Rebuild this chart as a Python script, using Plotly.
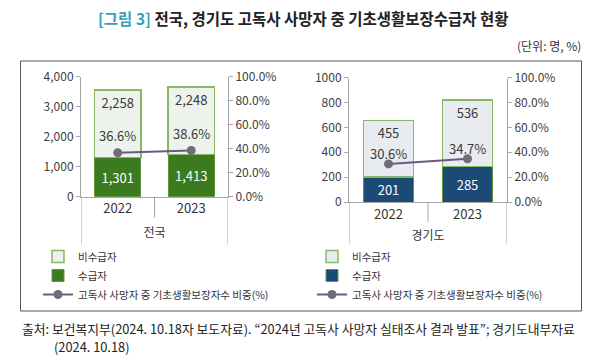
import plotly.graph_objects as go

# ---------------- data ----------------
years = ["2022", "2023"]
nat_recipients = [1301, 1413]
nat_non_recipients = [2258, 2248]
nat_share = [0.366, 0.386]
gg_recipients = [201, 285]
gg_non_recipients = [455, 536]
gg_share = [0.306, 0.347]

region_labels = ["전국", "경기도"]
series_names = ["비수급자", "수급자", "고독사 사망자 중 기초생활보장자수 비중(%)"]
left_ticks_nat = [0, 1000, 2000, 3000, 4000]
left_ticks_gg = [0, 200, 400, 600, 800, 1000]
right_ticks = [0, 0.2, 0.4, 0.6, 0.8, 1.0]

# ---------------- helpers ----------------
W, H = 600, 360
def px(x):
    return x / W
def py(y):
    return 1 - y / H

FONT = "Noto Sans CJK KR"
AX = "#a6a6a6"
TXT = "#3a3a3a"

fig = go.Figure()

def add_panel(rec, non, share, xa, ya, ya2, leg, rec_color, non_color,
              label_shift, outer_len, inner_len):
    fig.add_trace(go.Bar(
        x=years, y=rec, name=series_names[1], xaxis=xa, yaxis=ya, legend=leg,
        legendrank=2,
        marker=dict(color=rec_color, line=dict(color="#5f963f", width=1)),
        texttemplate="%{y:,}", textposition="inside", insidetextanchor="middle",
        textangle=0, textfont=dict(color="white", size=13, family=FONT),
        constraintext="none", hoverinfo="skip"))
    fig.add_trace(go.Bar(
        x=years, y=non, name=series_names[0], xaxis=xa, yaxis=ya, legend=leg,
        legendrank=1,
        marker=dict(color=non_color, line=dict(color="#86b865", width=1.5)),
        texttemplate="%{y:,}", textposition="inside", insidetextanchor="end",
        textangle=0, textfont=dict(color=TXT, size=13, family=FONT),
        constraintext="none", hoverinfo="skip"))
    fig.add_trace(go.Scatter(
        x=years, y=share, name=series_names[2], xaxis=xa, yaxis=ya2, legend=leg,
        legendrank=3, mode="lines+markers",
        line=dict(color="#6b5a80", width=2),
        marker=dict(color="#6f6b79", size=9),
        cliponaxis=False, hoverinfo="skip"))
    # percentage labels above the markers (category axis -> category index)
    for i, v in enumerate(share):
        fig.add_annotation(xref=xa, yref=ya2, x=i, y=v, yshift=label_shift,
                           showarrow=False, text=f"{v:.1%}",
                           font=dict(color=TXT, size=13, family=FONT))
    # category separators extending below the axis (axis decoration)
    n = len(years)
    for i in range(n + 1):
        ln = outer_len if i in (0, n) else inner_len
        fig.add_shape(type="line", xref=xa, yref=f"{ya} domain",
                      x0=i - 0.5, x1=i - 0.5, y0=0, y1=-ln,
                      line=dict(color=AX, width=1))

add_panel(nat_recipients, nat_non_recipients, nat_share, "x", "y", "y2", "legend",
          "#3b7a1e", "#eef2ec", 17, 0.4, 0.175)
add_panel(gg_recipients, gg_non_recipients, gg_share, "x2", "y3", "y4", "legend2",
          "#1c4a76", "#e8ebef", 10, 0.337, 0.16)

tickfont = dict(family=FONT, size=12, color="#404040")

def xaxis_main(domain, anchor, title, standoff):
    return dict(domain=domain, anchor=anchor, type="category", range=[-0.5, 1.5],
                showline=True, linecolor=AX, linewidth=1, ticks="",
                showgrid=False, zeroline=False, automargin=False,
                tickfont=dict(family=FONT, size=13, color="#333"),
                title=dict(text=title, standoff=standoff,
                           font=dict(family=FONT, size=12, color="#333")))

def yleft(domain, anchor, rng, vals, fmt):
    return dict(domain=domain, anchor=anchor, range=rng, tickvals=vals,
                tickformat=fmt, showline=True, linecolor=AX, ticks="outside",
                ticklen=4, tickcolor=AX, showgrid=False, zeroline=False,
                automargin=False, tickfont=tickfont)

def yright(over, anchor):
    return dict(overlaying=over, anchor=anchor, side="right", range=[0, 1],
                tickvals=right_ticks, tickformat=".1%", showline=True,
                linecolor=AX, ticks="outside", ticklen=4, tickcolor=AX,
                showgrid=False, zeroline=False, automargin=False,
                tickfont=tickfont)

legend_common = dict(xanchor="left", yanchor="top", bgcolor="rgba(0,0,0,0)",
                     traceorder="normal", tracegroupgap=0,
                     font=dict(family=FONT, size=10.5, color="#333"))

fig.update_layout(
    width=W, height=H, autosize=False,
    margin=dict(l=0, r=0, t=0, b=0, pad=0, autoexpand=False),
    paper_bgcolor="white", plot_bgcolor="rgba(0,0,0,0)",
    barmode="stack", bargap=0.37,
    showlegend=True,
    xaxis=xaxis_main([px(81), px(228)], "y", region_labels[0], 12),
    xaxis2=xaxis_main([px(349), px(507)], "y3", region_labels[1], 10),
    yaxis=yleft([py(196.7), py(76.7)], "x", [0, 4000], left_ticks_nat, ","),
    yaxis2=yright("y", "x"),
    yaxis3=yleft([py(202), py(77.5)], "x2", [0, 1000], left_ticks_gg, "d"),
    yaxis4=yright("y3", "x2"),
    legend=dict(x=px(38), y=py(242), **legend_common),
    legend2=dict(x=px(312), y=py(242), **legend_common),
    font=dict(family=FONT),
)

# outer frame
fig.add_shape(type="rect", xref="paper", yref="paper",
              x0=px(20.5), x1=px(581.5), y0=py(311), y1=py(61),
              line=dict(color="#555", width=1), layer="below")

# title and notes
fig.add_annotation(
    xref="paper", yref="paper", x=px(303), y=py(18), xanchor="center", yanchor="middle",
    showarrow=False,
    text="<b><span style='color:#35a0b6'>[그림 3]</span> 전국, 경기도 고독사 사망자 중 기초생활보장수급자 현황</b>",
    font=dict(family=FONT, size=15.5, color="#222"))
fig.add_annotation(
    xref="paper", yref="paper", x=px(583), y=py(45), xanchor="right", yanchor="middle",
    showarrow=False, text="(단위: 명, %)",
    font=dict(family=FONT, size=12, color="#333"))
fig.add_annotation(
    xref="paper", yref="paper", x=px(20), y=py(328), xanchor="left", yanchor="middle",
    showarrow=False,
    text="출처: 보건복지부(2024. 10.18자 보도자료). “2024년 고독사 사망자 실태조사 결과 발표”; 경기도내부자료",
    font=dict(family=FONT, size=12.8, color="#222"))
fig.add_annotation(
    xref="paper", yref="paper", x=px(52), y=py(346), xanchor="left", yanchor="middle",
    showarrow=False, text="(2024. 10.18)",
    font=dict(family=FONT, size=12.8, color="#222"))

fig.write_html("out.html", config={"displayModeBar": False},
               post_script="document.body.style.margin='0';document.body.style.overflow='hidden';")
